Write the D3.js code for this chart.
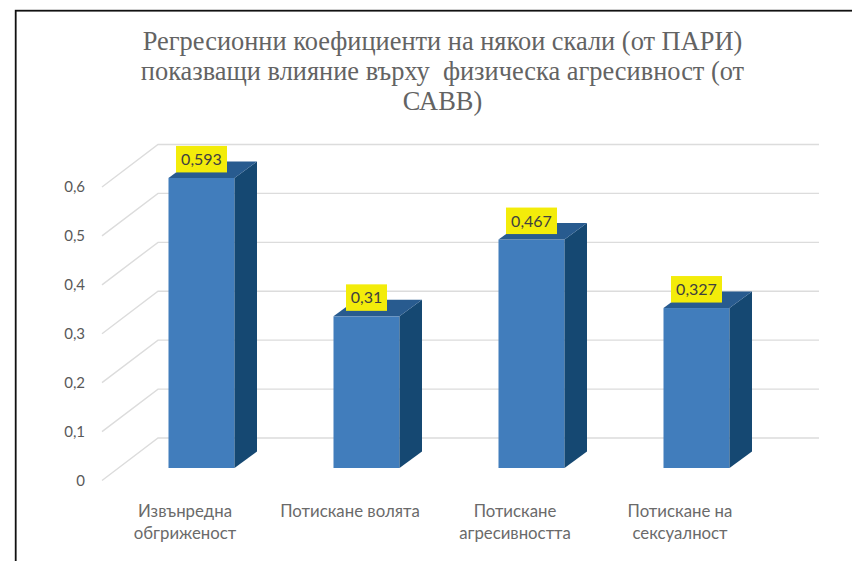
<!DOCTYPE html>
<html>
<head>
<meta charset="utf-8">
<style>
  html, body { margin: 0; padding: 0; background: #fff; overflow: hidden; }
  .title { font-family: "Liberation Serif", serif; font-size: 26.4px; fill: #636363; text-anchor: middle; }
  .axisText { font-family: Lato, "Open Sans", sans-serif; font-size: 15px; fill: #595959; }
  .catText { font-family: Lato, "Open Sans", sans-serif; font-size: 16.8px; fill: #6a6a6a; text-anchor: middle; }
  .dataText { font-family: Lato, "Open Sans", sans-serif; font-size: 16px; fill: #404040; text-anchor: middle; }
</style>
</head>
<body>
<div id="chart"></div>
<script src="https://cdn.jsdelivr.net/npm/d3@7"></script>
<script>
var titleLines = [
  "Регресионни коефициенти на някои скали (от ПАРИ)",
  "показващи влияние върху  физическа агресивност (от",
  "САВВ)"
];
var categories = ["Извънредна обгриженост", "Потискане волята", "Потискане агресивността", "Потискане на сексуалност"];
var categoryLines = [
  ["Извънредна", "обгриженост"],
  ["Потискане волята"],
  ["Потискане", "агресивността"],
  ["Потискане на", "сексуалност"]
];
var values = [0.593, 0.31, 0.467, 0.327];
var valueLabels = ["0,593", "0,31", "0,467", "0,327"];
var yTicks = [0, 0.1, 0.2, 0.3, 0.4, 0.5, 0.6];

var svgWidth = 852;
var svgHeight = 561;

// 3D look: the wall sits behind the front plane, bars sit in between
var wall = { dx: 56, dy: -42.5, right: 819 };
var barOffsetY = -12.5;
var barDepth = { dx: 22.5, dy: -16.5 };

var svg = d3.select("#chart")
  .append("svg")
  .attr("width", svgWidth)
  .attr("height", svgHeight)
  .style("display", "block");

// outer frame, runs off the right and bottom of the picture
svg.append("rect")
  .attr("x", 15.7)
  .attr("y", 10.7)
  .attr("width", 900)
  .attr("height", 700)
  .attr("fill", "#fff")
  .attr("stroke", "#111")
  .attr("stroke-width", 1.8);

svg.selectAll(".title")
  .data(titleLines)
  .enter()
  .append("text")
  .attr("class", "title")
  .attr("x", 442.5)
  .attr("y", function(d, i) { return 50 + i * 30; })
  .style("white-space", "pre")
  .text(function(d) { return d; });

var yScale = d3.scaleLinear().domain([0, 0.6]).range([480.5, 187]);

var xScale = d3.scaleBand()
  .domain(categories)
  .range([119, 779])
  .paddingInner(0.6)
  .paddingOuter(0.3);

// Gridlines: slanted on the side wall, then flat along the back wall
var grid = svg.append("g");
grid.selectAll("polyline")
  .data(yTicks)
  .enter()
  .append("polyline")
  .attr("fill", "none")
  .attr("stroke", "#dcdcdc")
  .attr("stroke-width", 1.4)
  .attr("points", function(d) {
    var y0 = yScale(d);
    return [[102, y0], [102 + wall.dx, y0 + wall.dy], [wall.right, y0 + wall.dy]].join(" ");
  });

// y axis labels
var leftAxis = d3.axisLeft(yScale)
  .tickValues(yTicks)
  .tickSize(0)
  .tickPadding(0)
  .tickFormat(function(d) { return d === 0 ? "0" : String(d).replace(".", ","); });

var axisGroup = svg.append("g")
  .attr("transform", "translate(85, 0)")
  .call(leftAxis);
axisGroup.select(".domain").remove();
axisGroup.selectAll("text").attr("class", "axisText");
axisGroup.attr("font-family", null).attr("font-size", null);

// Bars
var bars = svg.selectAll(".bar")
  .data(values)
  .enter()
  .append("g")
  .attr("class", "bar");

function barLeft(i) { return xScale(categories[i]); }
function barRight(i) { return barLeft(i) + xScale.bandwidth(); }
function barTop(d) { return yScale(d) + barOffsetY; }
var barBottom = yScale(0) + barOffsetY;

bars.append("rect")
  .attr("x", function(d, i) { return barLeft(i); })
  .attr("y", function(d) { return barTop(d); })
  .attr("width", xScale.bandwidth())
  .attr("height", function(d) { return barBottom - barTop(d); })
  .attr("fill", "#417dbc");

bars.append("polygon")
  .attr("fill", "#154872")
  .attr("points", function(d, i) {
    var r = barRight(i), t = barTop(d);
    return [[r, t], [r + barDepth.dx, t + barDepth.dy], [r + barDepth.dx, barBottom + barDepth.dy], [r, barBottom]].join(" ");
  });

bars.append("polygon")
  .attr("fill", "#285b8f")
  .attr("points", function(d, i) {
    var l = barLeft(i), r = barRight(i), t = barTop(d);
    return [[l, t], [l + barDepth.dx, t + barDepth.dy], [r + barDepth.dx, t + barDepth.dy], [r, t]].join(" ");
  });

// Yellow data labels
var labels = svg.selectAll(".dataLabel")
  .data(values)
  .enter()
  .append("g")
  .attr("class", "dataLabel");

labels.append("rect")
  .attr("x", function(d, i) {
    return barLeft(i) + xScale.bandwidth() / 2 - (valueLabels[i].length > 4 ? 25.5 : 20.5);
  })
  .attr("y", function(d) { return barTop(d) - 32; })
  .attr("width", function(d, i) { return valueLabels[i].length > 4 ? 51 : 41; })
  .attr("height", 26.5)
  .attr("fill", "#f3ec0a");

labels.append("text")
  .attr("class", "dataText")
  .attr("x", function(d, i) { return barLeft(i) + xScale.bandwidth() / 2; })
  .attr("y", function(d) { return barTop(d) - 13; })
  .text(function(d, i) { return valueLabels[i]; });

// Category labels, sit a bit left of the bars because of the 3D view
var catGroups = svg.selectAll(".cat")
  .data(categoryLines)
  .enter()
  .append("g")
  .attr("class", "cat");

catGroups.selectAll("text")
  .data(function(d, i) {
    return d.map(function(line, j) { return { line: line, j: j, i: i }; });
  })
  .enter()
  .append("text")
  .attr("class", "catText")
  .attr("x", function(d) { return barLeft(d.i) + xScale.bandwidth() / 2 - 16.5; })
  .attr("y", function(d) { return 516.5 + d.j * 22.5; })
  .text(function(d) { return d.line; });
</script>
</body>
</html>
